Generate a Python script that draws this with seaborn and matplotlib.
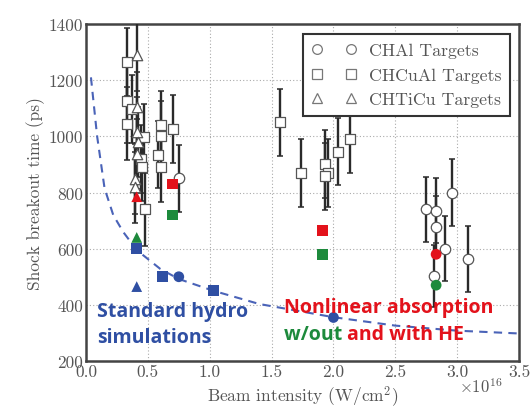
import numpy as np
import pandas as pd
import matplotlib
matplotlib.use("Agg")
import matplotlib.pyplot as plt
import seaborn as sns

# ---------------- data (intensity in units of 1e16 W/cm^2, time in ps) -------------
chal_x = [0.75, 2.75, 2.83, 2.83, 2.96, 2.90, 3.09, 2.81]
chal_y = [850, 740, 735, 677, 800, 600, 563, 502]
chal_e = [120, 115, 115, 110, 118, 115, 118, 110]

chcual_x = [0.33, 0.33, 0.33, 0.37, 0.47, 0.445, 0.45, 0.48, 0.61, 0.61, 0.70,
            0.585, 0.61, 1.57, 1.735, 1.93, 1.96, 1.93, 2.04, 2.13]
chcual_y = [1265, 1125, 1045, 1097, 996, 919, 890, 741, 1040, 1002, 1026,
            935, 890, 1050, 869, 901, 869, 858, 945, 990]
chcual_e = [120, 150, 130, 120, 120, 120, 120, 130, 120, 125, 120,
            120, 125, 120, 120, 120, 120, 120, 120, 120]

chticu_x = [0.41, 0.41, 0.41, 0.42, 0.41, 0.40, 0.40]
chticu_y = [1290, 1103, 1016, 979, 937, 848, 818]
chticu_e = [130, 125, 125, 125, 125, 125, 125]

# simulations (filled)
sim_x = [0.41, 0.41, 0.62, 1.03, 0.75, 2.00,
         0.41, 0.70, 1.91, 2.83,
         0.41, 0.70, 1.91, 2.83]
sim_y = [465, 600, 500, 450, 500, 355,
         785, 830, 665, 580,
         640, 720, 580, 470]
sim_kind = ["standard"] * 6 + ["nonlinear"] * 4 + ["with HE"] * 4
sim_shape = ["tri", "sq", "sq", "sq", "ci", "ci",
             "tri", "sq", "sq", "ci",
             "tri", "sq", "sq", "ci"]

# dashed fit curve
fit_x = [0.04, 0.09, 0.15, 0.22, 0.30, 0.41, 0.60, 0.75, 1.03, 1.40, 2.00, 2.50, 3.00, 3.50]
fit_y = [1210, 1000, 815, 720, 660, 595, 528, 492, 450, 403, 356, 326, 308, 298]

x_ticks = [0.0, 0.5, 1.0, 1.5, 2.0, 2.5, 3.0, 3.5]
y_ticks = [200, 400, 600, 800, 1000, 1200, 1400]

# ---------------- style ----------------
sns.set_style("whitegrid")
plt.rcParams["font.family"] = ["cmr10", "DejaVu Serif"]
plt.rcParams["axes.formatter.use_mathtext"] = True
plt.rcParams["mathtext.fontset"] = "cm"

fig = plt.figure(figsize=(5.32, 4.14), dpi=100)
ax = fig.add_axes([86 / 532, 1 - 362 / 414, (519 - 86) / 532, (362 - 25) / 414])
ax.set_facecolor("white")

BLUE = "#2f4fa3"
RED = "#e3121b"
GREEN = "#1d8a3c"
EDGE = "#555555"
BAR = "#2a2a2a"

# fit curve
fit_df = pd.DataFrame({"x": fit_x, "y": fit_y})
sns.lineplot(data=fit_df, x="x", y="y", ax=ax, color="#4a63b8", lw=1.5,
             linestyle=(0, (4, 3)), zorder=2)

# open data with error bars
for xs, ys, es, m, ms in [(chcual_x, chcual_y, chcual_e, "s", 7.5),
                          (chticu_x, chticu_y, chticu_e, "^", 7.5),
                          (chal_x, chal_y, chal_e, "o", 7.5)]:
    ax.errorbar(xs, ys, yerr=es, fmt="none", ecolor=BAR, elinewidth=1.7,
                capsize=2.5, capthick=1.1, zorder=3)
    df = pd.DataFrame({"x": xs, "y": ys})
    sns.scatterplot(data=df, x="x", y="y", ax=ax, marker=m, s=ms ** 2,
                    facecolor="white", edgecolor=EDGE, linewidth=0.9, zorder=4)

# filled simulations
sim_df = pd.DataFrame({"x": sim_x, "y": sim_y, "kind": sim_kind, "shape": sim_shape})
sns.scatterplot(data=sim_df, x="x", y="y", hue="kind", style="shape", ax=ax,
                palette={"standard": BLUE, "nonlinear": RED, "with HE": GREEN},
                markers={"tri": "^", "sq": "s", "ci": "o"}, s=60,
                edgecolor="none", linewidth=0, legend=False, zorder=5)

ax.set_xlim(0, 3.5)
ax.set_ylim(200, 1400)
ax.set_xticks(x_ticks)
ax.set_yticks(y_ticks)
ax.set_xticklabels([f"{t:.1f}" for t in x_ticks])
ax.set_yticklabels([str(t) for t in y_ticks])
ax.tick_params(axis="both", labelsize=12.5, colors="#555555", direction="in",
               length=3, width=0.8, pad=2)
ax.tick_params(axis="both", labelcolor="#555555")
ax.grid(True, color="#aaaaaa", linestyle=(0, (1, 2)), linewidth=0.8)
for sp in ax.spines.values():
    sp.set_color("#444444")
    sp.set_linewidth(1.8)
    sp.set_visible(True)

ax.set_xlabel("Beam intensity (W/cm$^2$)", fontsize=12.5, color="#555555", labelpad=3)
ax.set_ylabel("Shock breakout time (ps)", fontsize=12.5, color="#555555", labelpad=3)
ax.text(0.963, -0.045, r"$\times 10^{16}$", transform=ax.transAxes, ha="right",
        va="top", fontsize=12, color="#555555")

# legend
from matplotlib.lines import Line2D
handles = [Line2D([], [], marker=m, color="none", markerfacecolor="white",
                  markeredgecolor="#777777", markersize=7, markeredgewidth=0.9)
           for m in ["o", "s", "^"]]
leg = ax.legend(handles, ["CHAl Targets", "CHCuAl Targets", "CHTiCu Targets"],
                numpoints=2, loc="upper right", bbox_to_anchor=(0.979, 0.97),
                borderaxespad=0.0,
                fontsize=12.8, frameon=True, fancybox=False, borderpad=0.5,
                handlelength=2.5, labelspacing=0.5, handletextpad=0.7)
leg.get_frame().set_edgecolor("#333333")
leg.get_frame().set_linewidth(1.5)
leg.get_frame().set_facecolor("white")
leg.get_frame().set_alpha(1)
leg.set_zorder(10)
for t in leg.get_texts():
    t.set_color("#555555")

# annotations
bold = dict(family=["Open Sans", "DejaVu Sans"], fontweight="bold", fontsize=14)
ax.text(0.09, 378, "Standard hydro", color=BLUE, ha="left", va="center", zorder=11, **bold)
ax.text(0.09, 285, "simulations", color=BLUE, ha="left", va="center", zorder=11, **bold)
ax.text(1.60, 392, "Nonlinear absorption", color=RED, ha="left", va="center",
        zorder=11, **bold)
t1 = ax.text(1.60, 296, "w/out ", color=GREEN, ha="left", va="center", zorder=11, **bold)
fig.canvas.draw()
bb = t1.get_window_extent().transformed(ax.transData.inverted())
ax.text(bb.x1, 296, "and with HE", color=RED, ha="left", va="center", zorder=11, **bold)

fig.savefig("out.png", dpi=100, facecolor="white")
